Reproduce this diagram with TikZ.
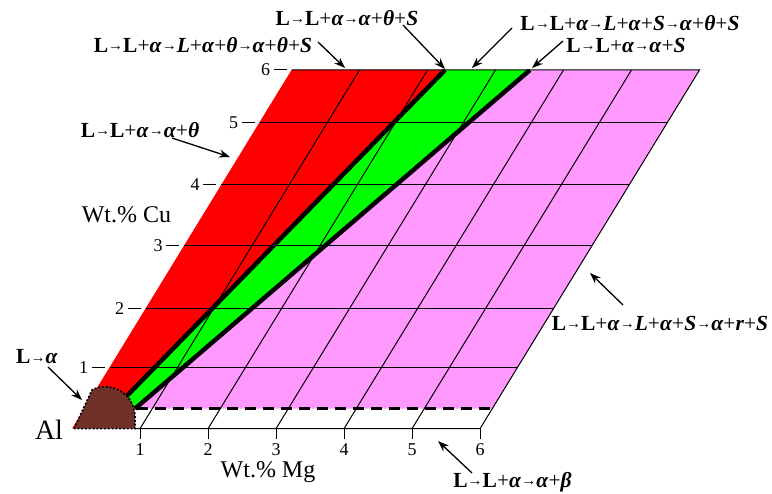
\documentclass[tikz,border=0pt]{standalone}
\usepackage{fontspec}
\setmainfont{Liberation Serif}
\usetikzlibrary{arrows.meta}
\definecolor{myred}{RGB}{255,0,0}
\definecolor{mygreen}{RGB}{0,255,0}
\definecolor{mypink}{RGB}{255,153,255}
\definecolor{mybrown}{RGB}{112,50,40}
\newcommand{\myto}{\raisebox{0.15ex}{\fontsize{15}{15}\selectfont\bfseries →}}
\newcommand{\gi}[1]{\textbf{\textit{#1}}}
\newcommand{\bL}{\textbf{L}}
\begin{document}
\begin{tikzpicture}[x=1pt,y=-1pt,
  gridline/.style={line width=1pt, black},
  bound/.style={line width=4.5pt, black},
  lab/.style={font=\fontsize{21.5}{23}\selectfont, inner sep=0pt},
  num/.style={font=\fontsize{18}{19}\selectfont, inner sep=0pt},
  axlab/.style={font=\fontsize{24}{26}\selectfont, inner sep=0pt},
  ptr/.style={line width=1.3pt, -{Stealth[length=11pt,width=8pt]}}
]
\useasboundingbox (0,0) rectangle (772,494);
% regions
\fill[mypink] (530,70) -- (699.5,70) -- (492.2,408.7) -- (135,408.7) -- cycle;
\fill[mygreen] (445,70) -- (530,70) -- (135,408.7) -- (120,403) -- cycle;
\fill[myred] (291.5,70) -- (445,70) -- (120,403) -- (72,428.7) -- cycle;
% grid
\foreach \y/\xl in {122.3/259.5, 185/221.1, 245.7/184, 308.3/145.7, 367.3/109.6}
  \draw[gridline] (\xl,\y) -- ++(408,0);
\foreach \k in {1,...,5}
  \draw[gridline] ({72+68*\k},428.7) -- ++(219.5,-358.7);
\draw[gridline] (291.5,70) -- (699.5,70) -- (480,428.7) -- (135,428.7);
% phase boundaries
\begin{scope}
  \clip (0,70) rectangle (772,494);
  \draw[bound] (445,70) -- (120,403);
  \draw[bound] (530,70) -- (135,408.7);
\end{scope}
\draw[line width=2.8pt, dash pattern=on 11pt off 7pt] (137,408.7) -- (492.2,408.7);
% Al corner
\filldraw[fill=mybrown, draw=black, line width=1.6pt, dash pattern=on 2pt off 1.8pt]
  (74,428.7) -- (92,390) .. controls (108,381) and (134,391) .. (135,416) -- (135,428.7) -- cycle;
% Mg ticks
\foreach \k in {1,...,6} {
  \draw[gridline] ({72+68*\k},428.7) -- ++(0,10);
  \node[num] (mg\k) at ({72+68*\k},449.5) {\k};
}
% Cu ticks
\foreach \n/\y/\xl in {1/367.3/109.6, 2/308.3/145.7, 3/245.7/184, 4/185/221.1, 5/122.3/259.5, 6/70/291.5} {
  \draw[gridline] (\xl-18,\y) -- (\xl-5,\y);
  \node[num] (cu\n) at (\xl-26,\y) {\n};
}
% axis labels
\node[axlab, font=\fontsize{28}{30}\selectfont] (al) at (49,430) {Al};
\node[axlab] (wcu) at (126.5,215) {Wt.\% Cu};
\node[axlab] (wmg) at (268,472) {Wt.\% Mg};
% reaction labels
\node[lab] (t1) at (347,18) {\bL\myto\bL+\gi{α}\myto\gi{α}+\gi{θ}+\gi{S}};
\node[lab] (t2) at (203,45) {\bL\myto\bL+\gi{α}\myto\gi{L}+\gi{α}+\gi{θ}\myto\gi{α}+\gi{θ}+\gi{S}};
\node[lab] (t3) at (630,23) {\bL\myto\bL+\gi{α}\myto\gi{L}+\gi{α}+\gi{S}\myto\gi{α}+\gi{θ}+\gi{S}};
\node[lab] (t4) at (626,45) {\bL\myto\bL+\gi{α}\myto\gi{α}+\gi{S}};
\node[lab] (t5) at (140,130) {\bL\myto\bL+\gi{α}\myto\gi{α}+\gi{θ}};
\node[lab] (t6) at (37,357) {\bL\myto\gi{α}};
\node[lab] (t7) at (660,323) {\bL\myto\bL+\gi{α}\myto\gi{L}+\gi{α}+\gi{S}\myto\gi{α}+\gi{r}+\gi{S}};
\node[lab] (t8) at (512.5,482) {\bL\myto\bL+\gi{α}\myto\gi{α}+\gi{β}};
% arrow ends
\coordinate (s1) at (403,25);   \coordinate (e1) at (445,69);
\coordinate (s2) at (318,42);   \coordinate (e2) at (345,68);
\coordinate (s3) at (512,28);   \coordinate (e3) at (472,68);
\coordinate (s4) at (563,41);   \coordinate (e4) at (532,68);
\coordinate (s5) at (172,138);  \coordinate (e5) at (230,157);
\coordinate (s6) at (48,367);   \coordinate (e6) at (82,400);
\coordinate (s7) at (623,305);  \coordinate (e7) at (590,273);
\coordinate (s8) at (472,473);  \coordinate (e8) at (438,441);
\foreach \i in {1,...,8} \draw[ptr] (s\i) -- (e\i);
\end{tikzpicture}
\end{document}
